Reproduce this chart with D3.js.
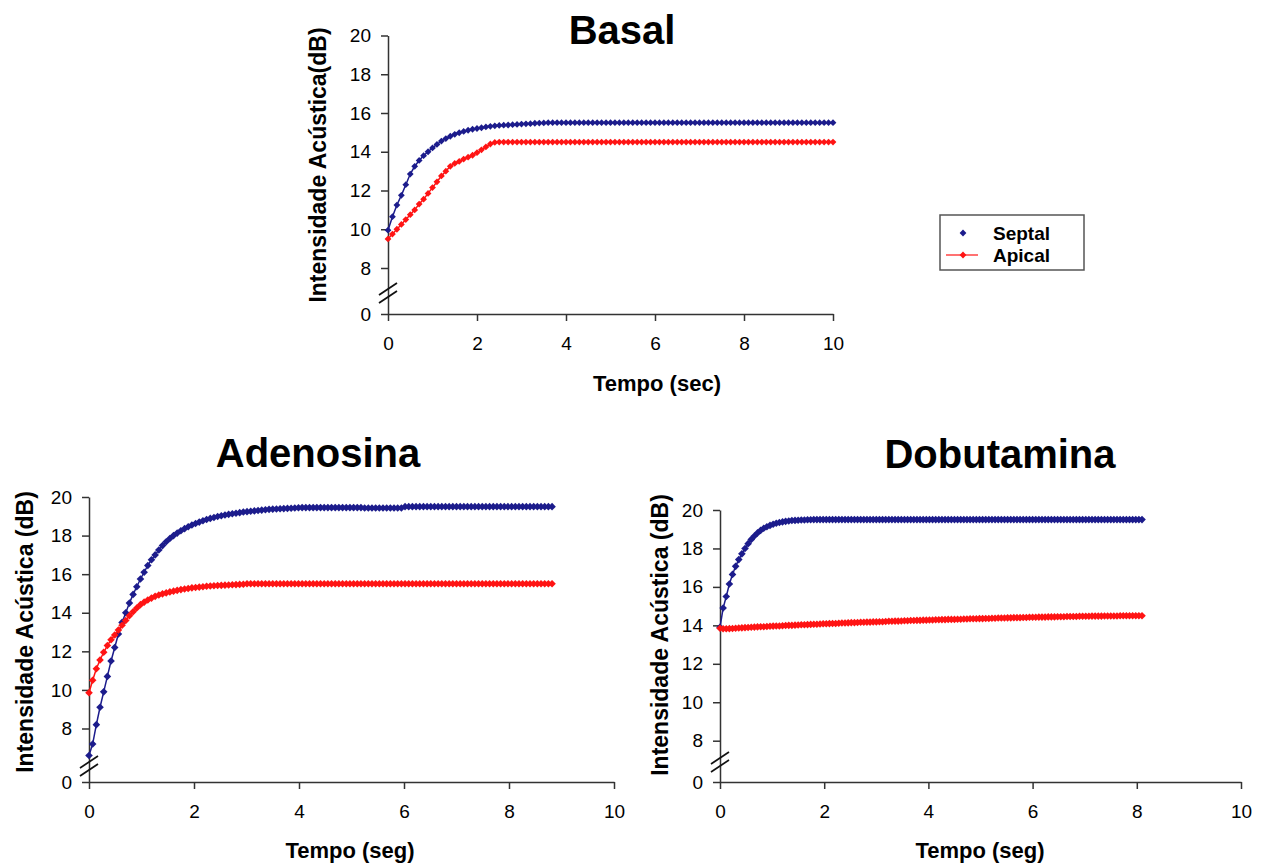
<!DOCTYPE html>
<html>
<head>
<meta charset="utf-8">
<script src="https://cdn.jsdelivr.net/npm/d3@7"></script>
<style>
  body { margin: 0; background: #fff; }
  text { font-family: "Liberation Sans", Arial, sans-serif; }
</style>
</head>
<body>
<svg id="chart" width="1261" height="868"></svg>
<script>
// sampling interval (s) of each recording
var basalStep = 0.1;
var adenStep = 0.07;
var dobuStep = 0.06;

// Basal recording (dB)
var basalSeptal = [9.95, 10.65, 11.25, 11.75, 12.3, 12.85, 13.25, 13.55, 13.8, 14.0,
  14.2, 14.38, 14.55, 14.68, 14.8, 14.9, 14.98, 15.05, 15.11, 15.16,
  15.2, 15.24, 15.28, 15.31, 15.34, 15.36, 15.37, 15.38, 15.4, 15.41,
  15.43, 15.44, 15.45, 15.47, 15.48, 15.49, 15.5, 15.5, 15.5, 15.5,
  15.5, 15.5, 15.5, 15.5, 15.5, 15.5, 15.5, 15.5, 15.5, 15.5,
  15.5, 15.5, 15.5, 15.5, 15.5, 15.5, 15.5, 15.5, 15.5, 15.5,
  15.5, 15.5, 15.5, 15.5, 15.5, 15.5, 15.5, 15.5, 15.5, 15.5,
  15.5, 15.5, 15.5, 15.5, 15.5, 15.5, 15.5, 15.5, 15.5, 15.5,
  15.5, 15.5, 15.5, 15.5, 15.5, 15.5, 15.5, 15.5, 15.5, 15.5,
  15.5, 15.5, 15.5, 15.5, 15.5, 15.5, 15.5, 15.5, 15.5, 15.5,
  15.5];
var basalApical = [9.5, 9.75, 10.0, 10.25, 10.5, 10.75, 11.0, 11.3, 11.55, 11.85,
  12.15, 12.45, 12.75, 13.0, 13.25, 13.4, 13.5, 13.62, 13.72, 13.82,
  13.95, 14.1, 14.25, 14.4, 14.48, 14.5, 14.5, 14.5, 14.5, 14.5,
  14.5, 14.5, 14.5, 14.5, 14.5, 14.5, 14.5, 14.5, 14.5, 14.5,
  14.5, 14.5, 14.5, 14.5, 14.5, 14.5, 14.5, 14.5, 14.5, 14.5,
  14.5, 14.5, 14.5, 14.5, 14.5, 14.5, 14.5, 14.5, 14.5, 14.5,
  14.5, 14.5, 14.5, 14.5, 14.5, 14.5, 14.5, 14.5, 14.5, 14.5,
  14.5, 14.5, 14.5, 14.5, 14.5, 14.5, 14.5, 14.5, 14.5, 14.5,
  14.5, 14.5, 14.5, 14.5, 14.5, 14.5, 14.5, 14.5, 14.5, 14.5,
  14.5, 14.5, 14.5, 14.5, 14.5, 14.5, 14.5, 14.5, 14.5, 14.5,
  14.5];

// Adenosina recording (dB)
var adenSeptal = [6.6, 7.2, 8.2, 9.1, 9.9, 10.7, 11.5, 12.2, 12.9, 13.5,
  14.0, 14.5, 14.95, 15.35, 15.75, 16.1, 16.45, 16.75, 17.0, 17.25,
  17.48, 17.68, 17.85, 18.0, 18.13, 18.25, 18.36, 18.46, 18.55, 18.63,
  18.7, 18.77, 18.83, 18.89, 18.94, 18.99, 19.03, 19.07, 19.1, 19.13,
  19.16, 19.19, 19.22, 19.24, 19.26, 19.28, 19.3, 19.32, 19.34, 19.36,
  19.37, 19.38, 19.39, 19.4, 19.41, 19.42, 19.43, 19.44, 19.45, 19.45,
  19.45, 19.45, 19.45, 19.45, 19.45, 19.45, 19.45, 19.45, 19.45, 19.45,
  19.45, 19.45, 19.45, 19.45, 19.45, 19.43, 19.43, 19.43, 19.43, 19.43,
  19.43, 19.43, 19.43, 19.43, 19.43, 19.43, 19.5, 19.5, 19.5, 19.5,
  19.5, 19.5, 19.5, 19.5, 19.5, 19.5, 19.5, 19.5, 19.5, 19.5,
  19.5, 19.5, 19.5, 19.5, 19.5, 19.5, 19.5, 19.5, 19.5, 19.5,
  19.5, 19.5, 19.5, 19.5, 19.5, 19.5, 19.5, 19.5, 19.5, 19.5,
  19.5, 19.5, 19.5, 19.5, 19.5, 19.5, 19.5];
var adenApical = [9.85, 10.5, 11.1, 11.55, 11.95, 12.3, 12.6, 12.85, 13.1, 13.35,
  13.6, 13.85, 14.05, 14.25, 14.42, 14.55, 14.66, 14.76, 14.85, 14.92,
  14.98, 15.03, 15.08, 15.12, 15.16, 15.2, 15.23, 15.26, 15.29, 15.31,
  15.33, 15.35, 15.37, 15.39, 15.4, 15.41, 15.42, 15.43, 15.44, 15.45,
  15.46, 15.47, 15.48, 15.5, 15.5, 15.5, 15.5, 15.5, 15.5, 15.5,
  15.5, 15.5, 15.5, 15.5, 15.5, 15.5, 15.5, 15.5, 15.5, 15.5,
  15.5, 15.5, 15.5, 15.5, 15.5, 15.5, 15.5, 15.5, 15.5, 15.5,
  15.5, 15.5, 15.5, 15.5, 15.5, 15.5, 15.5, 15.5, 15.5, 15.5,
  15.5, 15.5, 15.5, 15.5, 15.5, 15.5, 15.5, 15.5, 15.5, 15.5,
  15.5, 15.5, 15.5, 15.5, 15.5, 15.5, 15.5, 15.5, 15.5, 15.5,
  15.5, 15.5, 15.5, 15.5, 15.5, 15.5, 15.5, 15.5, 15.5, 15.5,
  15.5, 15.5, 15.5, 15.5, 15.5, 15.5, 15.5, 15.5, 15.5, 15.5,
  15.5, 15.5, 15.5, 15.5, 15.5, 15.5, 15.5];

// Dobutamina recording (dB)
var dobuSeptal = [13.9, 14.9, 15.5, 16.15, 16.65, 17.07, 17.42, 17.72, 18.0, 18.25,
  18.47, 18.65, 18.81, 18.94, 19.05, 19.13, 19.2, 19.26, 19.31, 19.35,
  19.38, 19.41, 19.43, 19.45, 19.46, 19.47, 19.48, 19.48, 19.49, 19.49,
  19.5, 19.5, 19.5, 19.5, 19.5, 19.5, 19.5, 19.5, 19.5, 19.5,
  19.5, 19.5, 19.5, 19.5, 19.5, 19.5, 19.5, 19.5, 19.5, 19.5,
  19.5, 19.5, 19.5, 19.5, 19.5, 19.5, 19.5, 19.5, 19.5, 19.5,
  19.5, 19.5, 19.5, 19.5, 19.5, 19.5, 19.5, 19.5, 19.5, 19.5,
  19.5, 19.5, 19.5, 19.5, 19.5, 19.5, 19.5, 19.5, 19.5, 19.5,
  19.5, 19.5, 19.5, 19.5, 19.5, 19.5, 19.5, 19.5, 19.5, 19.5,
  19.5, 19.5, 19.5, 19.5, 19.5, 19.5, 19.5, 19.5, 19.5, 19.5,
  19.5, 19.5, 19.5, 19.5, 19.5, 19.5, 19.5, 19.5, 19.5, 19.5,
  19.5, 19.5, 19.5, 19.5, 19.5, 19.5, 19.5, 19.5, 19.5, 19.5,
  19.5, 19.5, 19.5, 19.5, 19.5, 19.5, 19.5, 19.5, 19.5, 19.5,
  19.5, 19.5, 19.5, 19.5, 19.5, 19.5];
var dobuApical = [13.85, 13.82, 13.82, 13.83, 13.84, 13.85, 13.86, 13.87, 13.88, 13.89, 13.9, 13.91, 13.92, 13.93, 13.93, 13.94, 13.95,
  13.96, 13.97, 13.97, 13.98, 13.99, 14.0, 14.0, 14.01, 14.02, 14.03, 14.03, 14.04, 14.05, 14.06, 14.06, 14.07, 14.08,
  14.08, 14.09, 14.1, 14.1, 14.11, 14.12, 14.12, 14.13, 14.14, 14.14, 14.15, 14.16, 14.16, 14.17, 14.17, 14.18, 14.18,
  14.19, 14.19, 14.2, 14.21, 14.21, 14.22, 14.22, 14.23, 14.24, 14.24, 14.25, 14.25, 14.26, 14.26, 14.27, 14.27, 14.28,
  14.28, 14.29, 14.29, 14.3, 14.3, 14.31, 14.31, 14.31, 14.32, 14.32, 14.33, 14.33, 14.34, 14.34, 14.34, 14.35, 14.35,
  14.36, 14.36, 14.37, 14.37, 14.38, 14.38, 14.38, 14.39, 14.39, 14.4, 14.4, 14.4, 14.41, 14.41, 14.42, 14.42, 14.42,
  14.43, 14.43, 14.43, 14.44, 14.44, 14.44, 14.45, 14.45, 14.45, 14.46, 14.46, 14.46, 14.46, 14.47, 14.47, 14.47, 14.47,
  14.48, 14.48, 14.48, 14.48, 14.49, 14.49, 14.49, 14.49, 14.49, 14.5, 14.5, 14.5, 14.5, 14.5, 14.5, 14.5, 14.5];

var xTicks = [0, 2, 4, 6, 8, 10];
// the axis is broken between 0 and 8
var yTicks = [0, 8, 10, 12, 14, 16, 18, 20];
var seriesNames = ["Septal", "Apical"];

var colors = { Septal: "#1c1c8c", Apical: "#ff1414" };
var axisColor = "#333";

var svg = d3.select("#chart");

// panel layout
var panels = [
  { title: "Basal", xLabel: "Tempo (sec)", yLabel: "Intensidade Acústica(dB)",
    septal: basalSeptal, apical: basalApical, step: basalStep,
    x0: 388, x1: 833, y20: 35.5, y8: 268, yBase: 314, yBreak: 293,
    titleX: 622, titleY: 44, yLabelX: 318, yLabelY: 165, xLabelX: 657, xLabelY: 391, r: 3.4 },
  { title: "Adenosina", xLabel: "Tempo (seg)", yLabel: "Intensidade Acústica (dB)",
    septal: adenSeptal, apical: adenApical, step: adenStep,
    x0: 89, x1: 614, y20: 497, y8: 728.5, yBase: 782, yBreak: 766,
    titleX: 318, titleY: 467, yLabelX: 25, yLabelY: 632, xLabelX: 350, xLabelY: 858, r: 3.8 },
  { title: "Dobutamina", xLabel: "Tempo (seg)", yLabel: "Intensidade Acústica (dB)",
    septal: dobuSeptal, apical: dobuApical, step: dobuStep,
    x0: 720, x1: 1241, y20: 510, y8: 740.7, yBase: 782, yBreak: 762,
    titleX: 1000, titleY: 468, yLabelX: 660, yLabelY: 635, xLabelX: 980, xLabelY: 858, r: 3.8 }
];

function diamond(r) {
  return `M0,${-r}L${r},0L0,${r}L${-r},0Z`;
}

function drawPanel(p) {
  var g = svg.append("g");

  var xScale = d3.scaleLinear().domain([0, 10]).range([p.x0, p.x1]);
  var yScale = d3.scaleLinear().domain([8, 20]).range([p.y8, p.y20]);
  // axis uses a piecewise scale so that "0" sits under the break
  var yAxisScale = d3.scaleLinear().domain([0, 8, 20]).range([p.yBase, p.y8, p.y20]);

  var xAxis = g.append("g")
    .attr("transform", `translate(0, ${p.yBase})`)
    .call(d3.axisBottom(xScale).tickValues(xTicks).tickSize(7).tickSizeOuter(0).tickPadding(16));
  var yAxis = g.append("g")
    .attr("transform", `translate(${p.x0}, 0)`)
    .call(d3.axisLeft(yAxisScale).tickValues(yTicks).tickSize(7).tickSizeOuter(0).tickPadding(10));

  [xAxis, yAxis].forEach(function (ax) {
    ax.selectAll("path, line").attr("stroke", axisColor).attr("stroke-width", 1.5);
    ax.selectAll("text")
      .attr("font-size", 19)
      .attr("fill", "#000")
      .style("font-family", "'Liberation Sans', Arial, sans-serif");
  });

  // break marks on the y axis
  [-4, 4].forEach(function (off) {
    g.append("line")
      .attr("x1", p.x0 - 9).attr("y1", p.yBreak + off + 6)
      .attr("x2", p.x0 + 9).attr("y2", p.yBreak + off - 6)
      .attr("stroke", "#111").attr("stroke-width", 1.7);
  });

  // series: septal first, apical drawn over it
  [["Septal", p.septal], ["Apical", p.apical]].forEach(function (s) {
    var name = s[0];
    var pts = s[1].map(function (v, i) { return { t: i * p.step, v: v }; });
    var line = d3.line()
      .x(d => xScale(d.t))
      .y(d => yScale(d.v));
    g.append("path")
      .datum(pts)
      .attr("d", line)
      .attr("fill", "none")
      .attr("stroke", colors[name])
      .attr("stroke-width", 1.5);
    g.selectAll(".pt-" + name)
      .data(pts)
      .enter()
      .append("path")
      .attr("class", "pt-" + name)
      .attr("d", diamond(p.r))
      .attr("transform", d => `translate(${xScale(d.t)}, ${yScale(d.v)})`)
      .attr("fill", colors[name]);
  });

  // titles
  g.append("text")
    .attr("x", p.titleX).attr("y", p.titleY)
    .attr("text-anchor", "middle")
    .attr("font-size", 40)
    .attr("font-weight", "bold")
    .text(p.title);

  g.append("text")
    .attr("x", p.xLabelX).attr("y", p.xLabelY)
    .attr("text-anchor", "middle")
    .attr("font-size", 22)
    .attr("font-weight", "bold")
    .text(p.xLabel);

  g.append("text")
    .attr("transform", `translate(${p.yLabelX}, ${p.yLabelY}) rotate(-90)`)
    .attr("text-anchor", "middle")
    .attr("dy", "0.36em")
    .attr("font-size", 23)
    .attr("font-weight", "bold")
    .text(p.yLabel);
}

panels.forEach(drawPanel);

// legend
var legend = svg.append("g").attr("transform", "translate(940, 215)");
legend.append("rect")
  .attr("width", 144).attr("height", 55)
  .attr("fill", "#fff")
  .attr("stroke", "#555")
  .attr("stroke-width", 1.5);

seriesNames.forEach(function (name, i) {
  var yy = 18 + i * 22;
  if (name === "Apical") {
    legend.append("line")
      .attr("x1", 6).attr("x2", 38)
      .attr("y1", yy).attr("y2", yy)
      .attr("stroke", colors[name]).attr("stroke-width", 1.2);
  }
  legend.append("path")
    .attr("d", diamond(3.4))
    .attr("transform", `translate(23, ${yy})`)
    .attr("fill", colors[name]);
  legend.append("text")
    .attr("x", 53).attr("y", yy)
    .attr("dy", "0.35em")
    .attr("font-size", 19)
    .attr("font-weight", "bold")
    .text(name);
});
</script>
</body>
</html>
